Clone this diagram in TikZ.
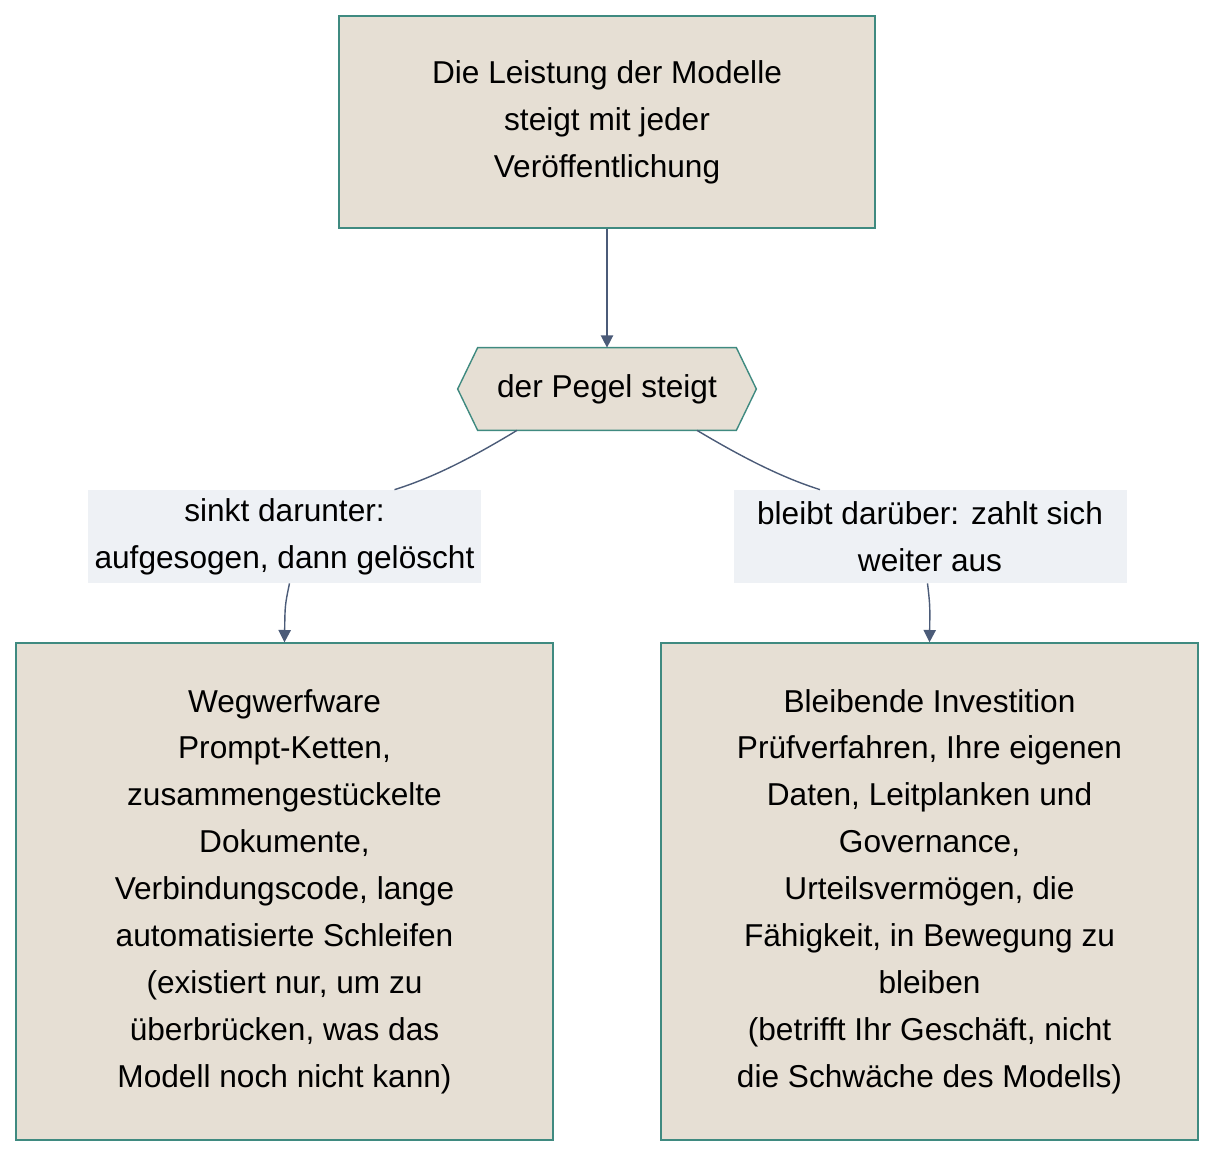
\documentclass[tikz,border=0pt]{standalone}
\usepackage{fontspec}
\setmainfont{Liberation Sans}
\usetikzlibrary{arrows.meta,positioning,calc}
\definecolor{boxfill}{HTML}{E6DFD4}
\definecolor{boxline}{HTML}{3F8A80}
\definecolor{edgecol}{HTML}{4B5B78}
\definecolor{labfill}{HTML}{EEF1F5}

\begin{document}
\begin{tikzpicture}[
    box/.style={draw=boxline, thick, fill=boxfill, align=center, inner sep=0pt, font=\fontsize{18}{26.7}\selectfont},
    edgelabel/.style={fill=labfill, align=center, inner sep=0pt, minimum width=7.86cm, minimum height=1.86cm, font=\fontsize{18}{26.7}\selectfont},
    flow/.style={draw=edgecol, thick, -{Triangle[length=7pt,width=7pt]}},
    plain/.style={draw=edgecol, thick}
]
\useasboundingbox (0,0) rectangle (24.6,-23.44);

% Top box
\node[box, minimum width=10.72cm, minimum height=4.24cm] (leistung) at (12.14,-2.44)
    {Die Leistung der Modelle\\steigt mit jeder\\Veröffentlichung};

% Hexagon
\node[minimum width=5.96cm, minimum height=1.64cm, inner sep=0pt] (pegel) at (12.14,-7.78) {};
\draw[boxline, thick, fill=boxfill] ($(pegel.west)$) -- ($(pegel.north west)+(0.4,0)$) -- ($(pegel.north east)+(-0.4,0)$)
    -- (pegel.east) -- ($(pegel.south east)+(-0.4,0)$) -- ($(pegel.south west)+(0.4,0)$) -- cycle;
\node[font=\fontsize{18}{26.7}\selectfont] at (pegel) {der Pegel steigt};

% Edge labels
\node[edgelabel] (sinkt) at (5.69,-10.73) {sinkt darunter:\\aufgesogen, dann gelöscht};
\node[edgelabel] (bleibt) at (18.6,-10.73) {bleibt darüber: zahlt sich\\weiter aus};

% Bottom boxes
\node[box, minimum width=10.74cm, minimum height=9.94cm] (wegwerf) at (5.69,-17.83)
    {Wegwerfware\\Prompt-Ketten,\\zusammengestückelte\\Dokumente,\\Verbindungscode, lange\\automatisierte Schleifen\\(existiert nur, um zu\\überbrücken, was das\\Modell noch nicht kann)};
\node[box, minimum width=10.74cm, minimum height=9.94cm] (invest) at (18.59,-17.83)
    {Bleibende Investition\\Prüfverfahren, Ihre eigenen\\Daten, Leitplanken und\\Governance,\\Urteilsvermögen, die\\Fähigkeit, in Bewegung zu\\bleiben\\(betrifft Ihr Geschäft, nicht\\die Schwäche des Modells)};

% Connectors
\draw[flow] (leistung) -- (pegel.north);
\draw[plain] ($(pegel.south)+(-1.8,0)$) .. controls (9.2,-9.3) and (8.5,-9.6) .. ($(sinkt.north)+(2.2,0)$);
\draw[plain] ($(pegel.south)+(1.8,0)$) .. controls (15.1,-9.3) and (15.8,-9.6) .. ($(bleibt.north)+(-2.2,0)$);
\draw[flow] ($(sinkt.south)+(0.1,0)$) .. controls (5.7,-12.1) .. (wegwerf.north);
\draw[flow] ($(bleibt.south)+(-0.05,0)$) .. controls (18.6,-12.1) .. (invest.north);

\end{tikzpicture}
\end{document}
